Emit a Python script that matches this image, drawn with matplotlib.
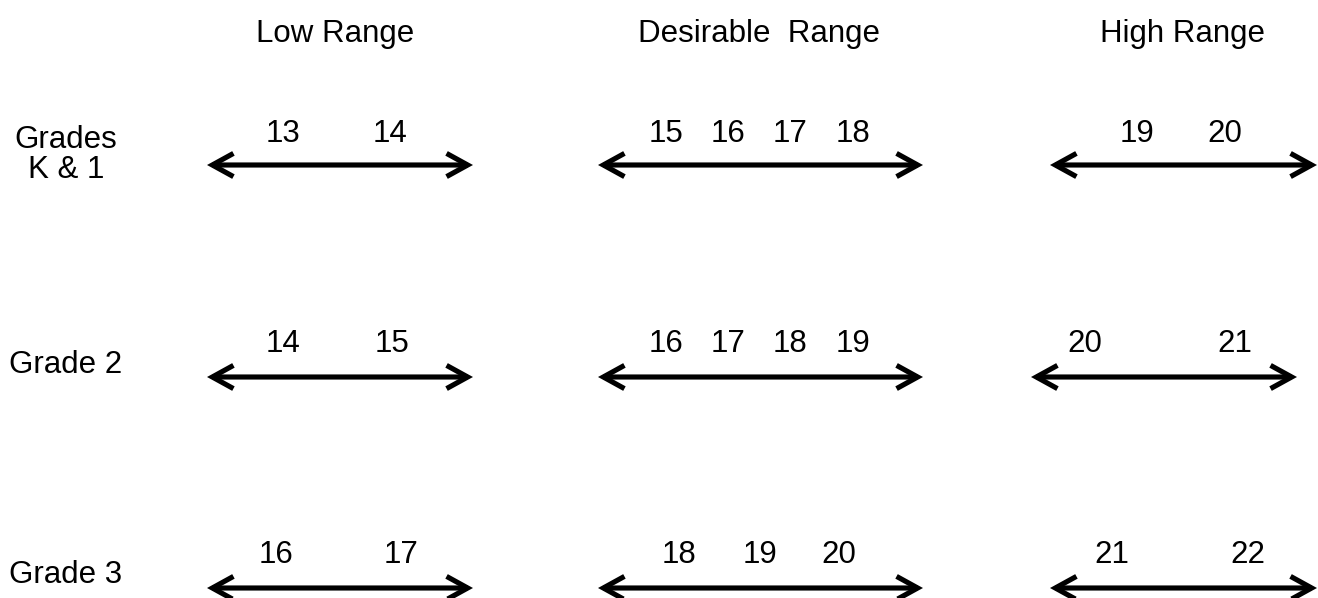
import matplotlib
matplotlib.use("Agg")
import matplotlib.pyplot as plt

# ---- data ----
range_labels = ["Low Range", "Desirable  Range", "High Range"]
row_labels = ["Grades\nK & 1", "Grade 2", "Grade 3"]
low_values = [[13, 14], [14, 15], [16, 17]]
desirable_values = [[15, 16, 17, 18], [16, 17, 18, 19], [18, 19, 20]]
high_values = [[19, 20], [20, 21], [21, 22]]

# ---- layout (pixel coordinates) ----
header_x = [335, 759, 1182]
header_y = 34
row_label_x = 66
row_label_y = [155, 365, 575]
arrow_y = [165, 377, 588]
number_y = [134, 344, 555]
low_arrow = [(207, 473), (207, 473), (207, 473)]
des_arrow = [(598, 923), (598, 923), (598, 923)]
high_arrow = [(1050, 1317), (1031, 1297), (1050, 1317)]
low_num_x = [[283, 390], [283, 392], [276, 401]]
des_num_x = [[666, 728, 790, 853], [666, 728, 790, 853], [679, 760, 839]]
high_num_x = [[1137, 1225], [1085, 1235], [1112, 1248]]

plt.rcParams['font.family'] = ['Liberation Sans', 'DejaVu Sans']
FS = 22.5

fig = plt.figure(figsize=(13.18, 5.98), dpi=100)
ax = fig.add_axes([0, 0, 1, 1])
ax.set_xlim(0, 1318)
ax.set_ylim(598, 0)
ax.axis('off')

for x, lab in zip(header_x, range_labels):
    ax.text(x, header_y, lab, ha='center', va='center', fontsize=FS)

for y, lab in zip(row_label_y, row_labels):
    ax.text(row_label_x, y, lab, ha='center', va='center', fontsize=FS,
            linespacing=1.0, multialignment='center')

def draw_arrow(x0, x1, y):
    ax.annotate('', xy=(x1, y), xytext=(x0, y),
                arrowprops=dict(arrowstyle='<->,head_length=0.4,head_width=0.22',
                                lw=3.7, color='black', shrinkA=0, shrinkB=0,
                                mutation_scale=38, joinstyle='miter',
                                capstyle='butt'))

groups = [(low_values, low_arrow, low_num_x),
          (desirable_values, des_arrow, des_num_x),
          (high_values, high_arrow, high_num_x)]

for r in range(3):
    for vals, arrows, nx in groups:
        x0, x1 = arrows[r]
        draw_arrow(x0, x1, arrow_y[r])
        for v, x in zip(vals[r], nx[r]):
            ax.text(x, number_y[r], str(v), ha='center', va='center', fontsize=FS)

fig.savefig('out.png', dpi=100)
